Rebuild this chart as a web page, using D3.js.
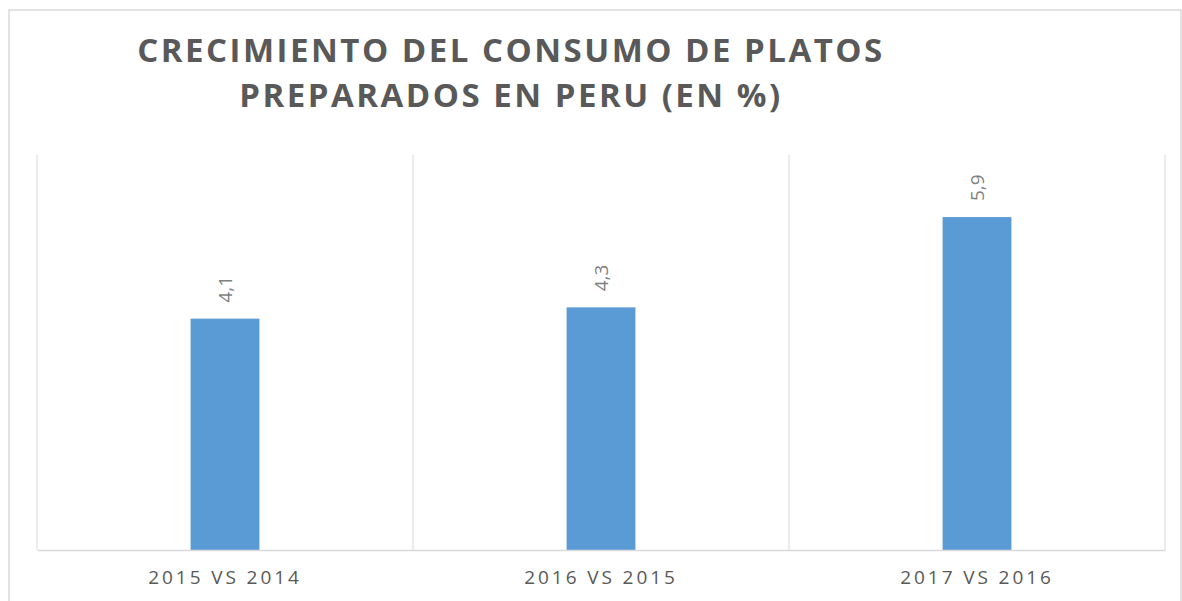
<!DOCTYPE html>
<html>
<head>
<meta charset="utf-8">
<script src="https://cdn.jsdelivr.net/npm/d3@7"></script>
<style>
  body { margin: 0; background: #fff; }
  text { font-family: 'Open Sans', sans-serif; }
</style>
</head>
<body>
<script>
const width = 1182
const height = 601

// Data
const categories = ['2015 VS 2014', '2016 VS 2015', '2017 VS 2016']
const values = [4.1, 4.3, 5.9]
const valueLabels = ['4,1', '4,3', '5,9']
const titleLines = ['CRECIMIENTO DEL CONSUMO DE PLATOS', 'PREPARADOS EN PERU (EN %)']

const plot = { left: 37, right: 1165, top: 155, bottom: 550 }

const svg = d3.select('body')
  .append('svg')
  .attr('width', width)
  .attr('height', height)

// outer chart border
svg.append('rect')
  .attr('x', 9)
  .attr('y', 10)
  .attr('width', 1172)
  .attr('height', 600)
  .attr('fill', 'none')
  .attr('stroke', '#d9d9d9')
  .attr('stroke-width', 1.5)

// title
svg.append('text')
  .attr('text-anchor', 'middle')
  .attr('fill', '#595959')
  .style('font-size', '33px')
  .style('font-weight', 'bold')
  .style('letter-spacing', '2.5px')
  .selectAll('tspan')
  .data(titleLines)
  .enter()
  .append('tspan')
  .attr('x', 511)
  .attr('y', (d, i) => 62 + i * 45)
  .text((d) => d)

const x = d3.scaleBand()
  .domain(categories)
  .range([plot.left, plot.right])
  .paddingInner(0)
  .paddingOuter(0)

const y = d3.scaleLinear()
  .domain([0, 7])
  .range([plot.bottom, plot.top])

// vertical category separators
const edges = categories.map((c) => x(c)).concat([plot.right])
svg.append('g')
  .selectAll('line')
  .data(edges)
  .enter()
  .append('line')
  .attr('x1', (d) => d)
  .attr('x2', (d) => d)
  .attr('y1', plot.top)
  .attr('y2', plot.bottom)
  .attr('stroke', '#d9d9d9')
  .attr('stroke-width', 1)

// bars
const barW = x.bandwidth() * 0.183
svg.append('g')
  .selectAll('rect')
  .data(values)
  .enter()
  .append('rect')
  .attr('x', (d, i) => x(categories[i]) + x.bandwidth() / 2 - barW / 2)
  .attr('y', (d) => y(d))
  .attr('width', barW)
  .attr('height', (d) => y(0) - y(d))
  .attr('fill', '#5b9bd5')

// value labels (rotated)
svg.append('g')
  .selectAll('text')
  .data(values)
  .enter()
  .append('text')
  .attr('transform', (d, i) => `translate(${x(categories[i]) + x.bandwidth() / 2 + 7}, ${y(d) - 16}) rotate(-90)`)
  .attr('fill', '#7f7f7f')
  .style('font-size', '19px')
  .text((d, i) => valueLabels[i])

// x axis
const xAxis = svg.append('g')
  .attr('transform', `translate(0, ${plot.bottom})`)
  .call(d3.axisBottom(x).tickSize(0).tickPadding(21))

xAxis.select('.domain')
  .attr('stroke', '#d9d9d9')
  .attr('stroke-width', 1.5)

xAxis.selectAll('text')
  .attr('fill', '#595959')
  .style('font-size', '19px')
  .style('letter-spacing', '2.9px')
  .style('font-family', "'Open Sans', sans-serif")
</script>
</body>
</html>
